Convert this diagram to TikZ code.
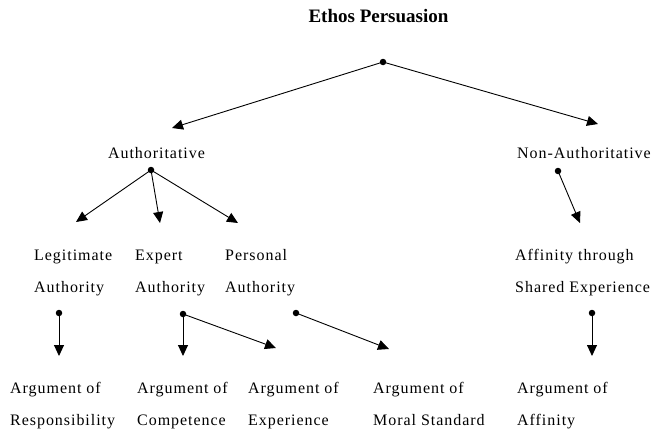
\documentclass[tikz,border=0pt]{standalone}
\usepackage{fontspec}
\setmainfont{Liberation Serif}
\newfontfamily\lblfont[LetterSpace=6]{Liberation Serif}
\usepackage{tikz}
\usetikzlibrary{arrows.meta, positioning}

\begin{document}
\begin{tikzpicture}[
  x=1pt, y=-1pt,
  lbl/.style={inner sep=0pt, align=left, font=\lblfont\fontsize{16}{32}\selectfont},
  ttl/.style={inner sep=0pt, font=\fontsize{19}{22}\selectfont\bfseries},
  link/.style={line width=0.9pt, -{Triangle[length=11pt, width=10pt]}},
  dot/.style={fill=black, circle, inner sep=0pt, minimum size=6.5pt}
]
  \useasboundingbox (0,0) rectangle (658,431);

  \node[ttl, anchor=base] (title) at (378.5, 23) {Ethos Persuasion};

  % level 1
  \node[lbl, anchor=base] (auth) at (156.5, 158) {Authoritative};
  \node[lbl, anchor=base] (nonauth) at (584, 158) {Non-Authoritative};

  % level 2 (base = last line)
  \node[lbl, anchor=base west] (legit) at (34, 292) {Legitimate\\Authority};
  \node[lbl, anchor=base west] (expert) at (135, 292) {Expert\\Authority};
  \node[lbl, anchor=base west] (personal) at (225, 292) {Personal\\Authority};
  \node[lbl, anchor=base west] (affinity) at (515, 292) {Affinity through\\Shared Experience};

  % level 3
  \node[lbl, anchor=base west] (resp) at (10, 425) {Argument of\\Responsibility};
  \node[lbl, anchor=base west] (comp) at (137, 425) {Argument of\\Competence};
  \node[lbl, anchor=base west] (exper) at (248, 425) {Argument of\\Experience};
  \node[lbl, anchor=base west] (moral) at (373, 425) {Argument of\\Moral Standard};
  \node[lbl, anchor=base west] (affarg) at (517, 425) {Argument of\\Affinity};

  % dots
  \node[dot] (d0) at (383, 62) {};
  \node[dot] (d1) at (151, 170) {};
  \node[dot] (d2) at (558, 171) {};
  \node[dot] (d3) at (59, 313) {};
  \node[dot] (d4) at (183, 314) {};
  \node[dot] (d5) at (296, 313) {};
  \node[dot] (d6) at (592, 313) {};

  % arrow tips
  \coordinate (t1) at (172, 128);
  \coordinate (t2) at (598, 124);
  \coordinate (t3) at (76, 222);
  \coordinate (t4) at (160, 223);
  \coordinate (t5) at (238, 223);
  \coordinate (t6) at (580, 223);
  \coordinate (t7) at (59, 356);
  \coordinate (t8) at (183, 356);
  \coordinate (t9) at (276, 348);
  \coordinate (t10) at (389, 349);
  \coordinate (t11) at (592, 356);

  \draw[link] (d0.center) -- (t1);
  \draw[link] (d0.center) -- (t2);
  \draw[link] (d1.center) -- (t3);
  \draw[link] (d1.center) -- (t4);
  \draw[link] (d1.center) -- (t5);
  \draw[link] (d2.center) -- (t6);
  \draw[link] (d3.center) -- (t7);
  \draw[link] (d4.center) -- (t8);
  \draw[link] (d4.center) -- (t9);
  \draw[link] (d5.center) -- (t10);
  \draw[link] (d6.center) -- (t11);
\end{tikzpicture}
\end{document}
